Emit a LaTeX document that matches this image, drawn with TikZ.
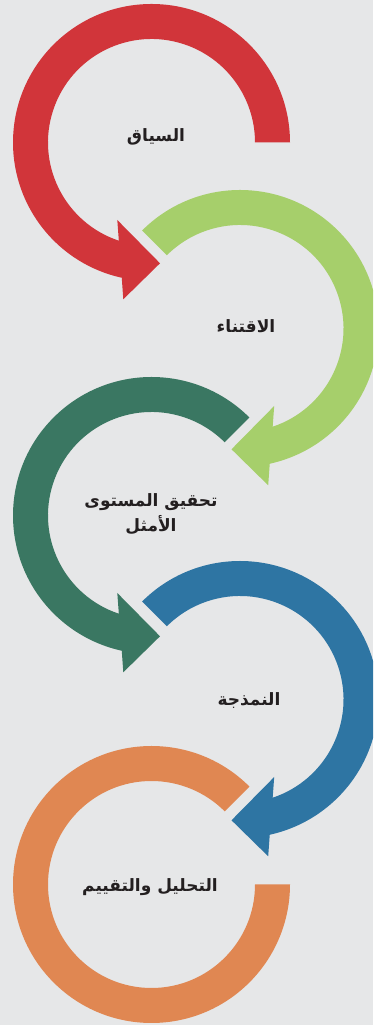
\documentclass[tikz,border=0pt]{standalone}
\usepackage{fontspec}
\newfontfamily\arabicfont[Script=Arabic]{DejaVu Sans}
\TeXXeTstate=1
\definecolor{bgcol}{HTML}{E6E7E8}
\definecolor{ink}{HTML}{231F20}
\definecolor{cred}{HTML}{D1353A}
\definecolor{clime}{HTML}{A6CF6B}
\definecolor{cpine}{HTML}{3A7762}
\definecolor{cblue}{HTML}{2E75A3}
\definecolor{corange}{HTML}{E08752}
\begin{document}
\begin{tikzpicture}[x=1pt,y=1pt,
  steplabel/.style={text=ink,font=\arabicfont\bfseries\fontsize{17}{25}\selectfont,align=center,inner sep=0pt}]
\fill[bgcol] (0,0) rectangle (373,1025);
\useasboundingbox (0,0) rectangle (373,1025);
\clip (0,0) rectangle (373,1025);
% ring radii: outer 138.5, inner 103.5
% 1: red ring, turning counter-clockwise, head at the bottom pointing right
\begin{scope}[shift={(151.5,882.5)}]
  \fill[cred] (0:138.5) arc[start angle=0,end angle=257.6,radius=138.5]
    -- (-28.2,-156.8) -- (8.5,-120.8) -- (-34.2,-77.5)
    -- (251.6:103.5) arc[start angle=251.6,end angle=0,radius=103.5] -- cycle;
\end{scope}
% 2: light green ring, turning clockwise, head pointing left
\begin{scope}[shift={(240,696.5)}]
  \fill[clime] (135:138.5) arc[start angle=135,end angle=-77.6,radius=138.5]
    -- (28.2,-156.8) -- (-8.5,-120.8) -- (34.2,-77.5)
    -- (-71.6:103.5) arc[start angle=-71.6,end angle=135,radius=103.5] -- cycle;
\end{scope}
% 3: dark green ring
\begin{scope}[shift={(151.5,509.5)}]
  \fill[cpine] (45:138.5) arc[start angle=45,end angle=257.6,radius=138.5]
    -- (-28.2,-156.8) -- (8.5,-120.8) -- (-34.2,-77.5)
    -- (251.6:103.5) arc[start angle=251.6,end angle=45,radius=103.5] -- cycle;
\end{scope}
% 4: blue ring
\begin{scope}[shift={(240,325.5)}]
  \fill[cblue] (135:138.5) arc[start angle=135,end angle=-77.6,radius=138.5]
    -- (28.2,-156.8) -- (-8.5,-120.8) -- (34.2,-77.5)
    -- (-71.6:103.5) arc[start angle=-71.6,end angle=135,radius=103.5] -- cycle;
\end{scope}
% 5: orange ring, no head
\begin{scope}[shift={(151.5,140.5)}]
  \fill[corange] (45:138.5) arc[start angle=45,end angle=360,radius=138.5]
    -- (0:103.5) arc[start angle=360,end angle=45,radius=103.5] -- cycle;
\end{scope}
% labels
\node[steplabel] (context) at (156,888) {\beginR السياق\endR};
\node[steplabel] (acquire) at (246,699) {\beginR الاقتناء\endR};
\node[steplabel] (optimum) at (151,511) {\beginR تحقيق المستوى\endR\\\beginR الأمثل\endR};
\node[steplabel] (model) at (249,324) {\beginR النمذجة\endR};
\node[steplabel] (assess) at (150,138) {\beginR التحليل والتقييم\endR};
\end{tikzpicture}
\end{document}
